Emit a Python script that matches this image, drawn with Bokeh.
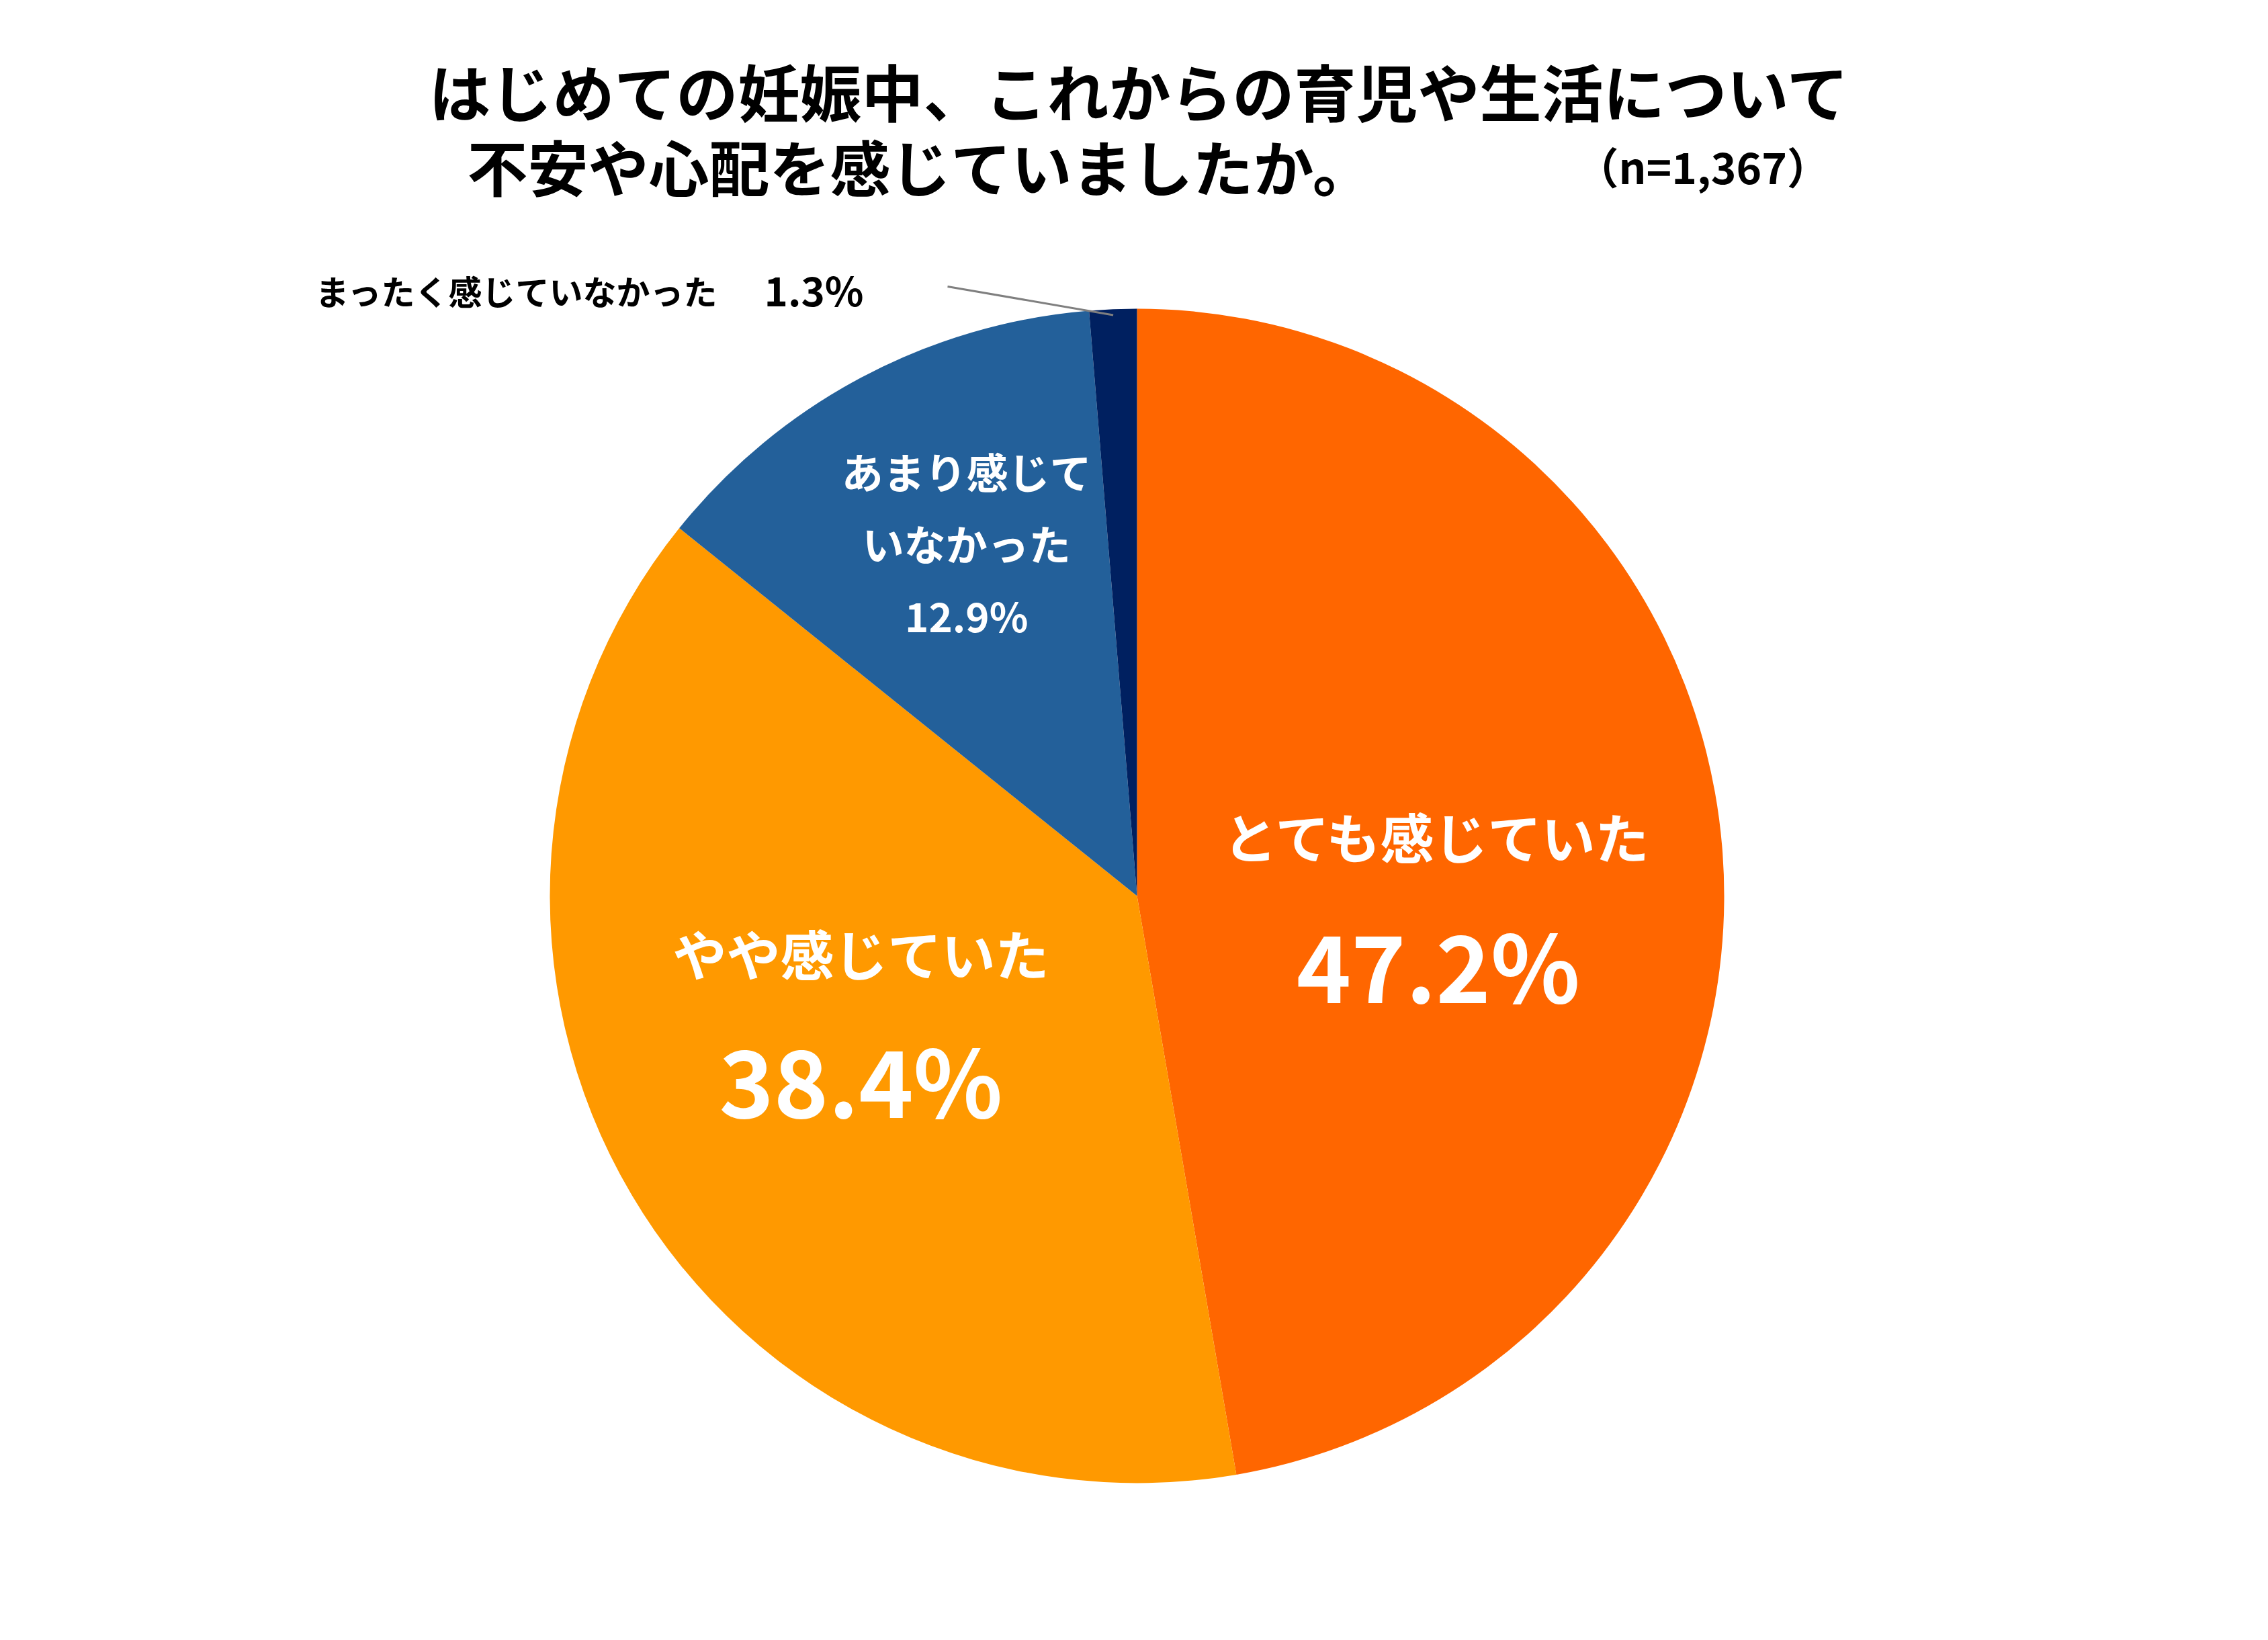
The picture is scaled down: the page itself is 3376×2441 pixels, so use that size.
import numpy as np
from bokeh.plotting import figure
from bokeh.models import Range1d, ColumnDataSource
from bokeh.core.properties import value
from bokeh.embed import file_html
from bokeh.resources import INLINE

# ---------------- data ----------------
title_lines = ["はじめての妊娠中、これからの育児や生活について", "不安や心配を感じていましたか。"]
sample_note = "（n=1,367）"
categories = ["とても感じていた", "やや感じていた", "あまり感じていなかった", "まったく感じていなかった"]
category_lines = [["とても感じていた"], ["やや感じていた"], ["あまり感じて", "いなかった"], ["まったく感じていなかった"]]
values = [47.2, 38.4, 12.9, 1.3]
pct_labels = ["47.2%", "38.4%", "12.9%", "1.3%"]
colors = ["#FF6600", "#FF9900", "#23609A", "#002060"]

# ---------------- layout ----------------
W, H = 3376, 2441
FONT = "Noto Sans CJK JP"

def Y(ypx):
    return H - ypx

CX, CY = 1692, Y(1333)
R = 874

vals = np.array(values, dtype=float)
frac = vals / vals.sum()
cum = np.concatenate([[0.0], np.cumsum(frac)])
start = np.pi / 2 - 2 * np.pi * cum[:-1]
end = np.pi / 2 - 2 * np.pi * cum[1:]
mid = (start + end) / 2

p = figure(width=W, height=H, x_range=Range1d(0, W), y_range=Range1d(0, H),
           output_backend="svg", toolbar_location=None, min_border=0,
           x_axis_location=None, y_axis_location=None)
p.grid.visible = False
p.outline_line_color = None
p.background_fill_color = "white"
p.border_fill_color = "white"

src = ColumnDataSource(dict(start=start, end=end, color=colors, cat=categories))
p.wedge(x=CX, y=CY, radius=R, start_angle="start", end_angle="end", direction="clock",
        fill_color="color", line_color=None, source=src)

# in-slice labels (first three slices)
label_r = [0.513, 0.512, 0.668]
label_shift_deg = [-5.4, -7.2, -2.2]
name_sizes = ["80px", "80px", "62px"]
pct_sizes = ["138px", "138px", "60px"]
line_gap = [190, 187, 107]

for i in range(3):
    ang = mid[i] + np.deg2rad(label_shift_deg[i])
    bx = CX + R * label_r[i] * np.cos(ang)
    by = CY + R * label_r[i] * np.sin(ang)
    lines = category_lines[i]
    n = len(lines) + 1
    gap = line_gap[i]
    ys = [by + gap * ((n - 1) / 2 - k) for k in range(n)]
    p.text(x=[bx] * len(lines), y=ys[:len(lines)], text=lines,
           text_font=value(FONT), text_font_style="bold", text_font_size=value(name_sizes[i]),
           text_color="white", text_align="center", text_baseline="middle")
    p.text(x=[bx], y=[ys[-1]], text=[pct_labels[i]],
           text_font=value(FONT), text_font_style="bold", text_font_size=value(pct_sizes[i]),
           text_color="white", text_align="center", text_baseline="middle")

# outside label for smallest slice
p.text(x=[469], y=[Y(431)], text=[categories[3]],
       text_font=value(FONT), text_font_style="bold", text_font_size=value("50px"),
       text_color="black", text_align="left", text_baseline="middle")
p.text(x=[1137], y=[Y(429)], text=[pct_labels[3]],
       text_font=value(FONT), text_font_style="bold", text_font_size=value("60px"),
       text_color="black", text_align="left", text_baseline="middle")
lx1 = CX + R * 0.99 * np.cos(mid[3])
ly1 = CY + R * 0.99 * np.sin(mid[3])
p.line(x=[1410, lx1], y=[Y(426), ly1], line_color="#7F7F7F", line_width=3)

# title
p.text(x=[1696], y=[Y(133)], text=[title_lines[0]],
       text_font=value(FONT), text_font_style="bold", text_font_size=value("92px"),
       text_color="black", text_align="center", text_baseline="middle")
p.text(x=[695], y=[Y(245)], text=[title_lines[1]],
       text_font=value(FONT), text_font_style="bold", text_font_size=value("90px"),
       text_color="black", text_align="left", text_baseline="middle")
p.text(x=[2345], y=[Y(245)], text=[sample_note],
       text_font=value(FONT), text_font_style="bold", text_font_size=value("64px"),
       text_color="black", text_align="left", text_baseline="middle")

open("out.html", "w").write(file_html(p, INLINE))
